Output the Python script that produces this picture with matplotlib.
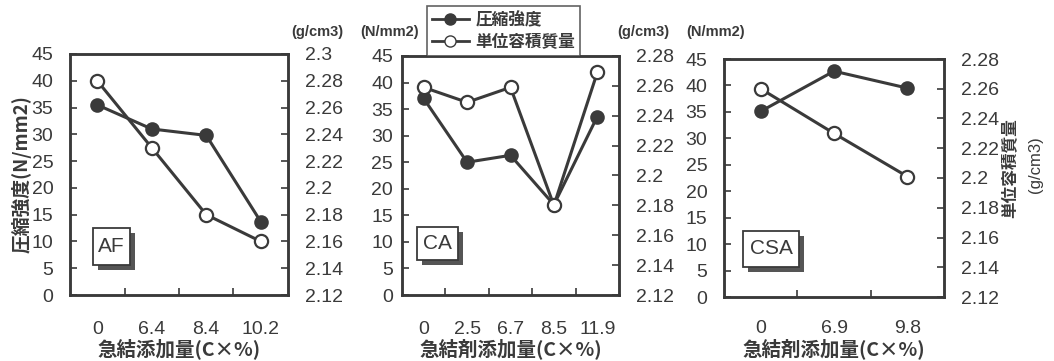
import numpy as np
import matplotlib.pyplot as plt
from matplotlib.lines import Line2D
from matplotlib.patches import Rectangle

JP = ['Noto Sans CJK JP', 'DejaVu Sans']
NUM = 'Liberation Sans'
INK = '#3a3a3a'

# 急結剤の種類ごとの添加量 (C×%)
af_x = ['0', '6.4', '8.4', '10.2']
ca_x = ['0', '2.5', '6.7', '8.5', '11.9']
csa_x = ['0', '6.9', '9.8']

# 圧縮強度 (N/mm2)
af_strength = [35.5, 31.0, 29.8, 13.7]
ca_strength = [37.0, 25.0, 26.3, 17.0, 33.6]
csa_strength = [35.1, 42.7, 39.5]

# 単位容積質量 (g/cm3)
af_density = [2.280, 2.230, 2.180, 2.160]
ca_density = [2.259, 2.249, 2.259, 2.180, 2.269]
csa_density = [2.260, 2.230, 2.201]

af_right_ticks = [2.12, 2.14, 2.16, 2.18, 2.2, 2.22, 2.24, 2.26, 2.28, 2.3]
other_right_ticks = [2.12, 2.14, 2.16, 2.18, 2.2, 2.22, 2.24, 2.26, 2.28]
left_ticks = [0, 5, 10, 15, 20, 25, 30, 35, 40, 45]

plt.rcParams['font.family'] = [NUM, 'Noto Sans CJK JP']

W, H = 1054, 361
fig = plt.figure(figsize=(W / 100, H / 100), dpi=100)


def px(x0, y0, x1, y1):
    # ピクセル座標 (左上原点) から figure 座標へ
    return [x0 / W, 1 - y1 / H, (x1 - x0) / W, (y1 - y0) / H]


def panel(rect, cats, strength, density, rticks, name, xlabel, lpad, xpad, box):
    ax = fig.add_axes(rect)
    xs = np.arange(len(cats))
    ax.set_xlim(-0.5, len(cats) - 0.5)
    ax.set_ylim(0, 45)
    ax.set_yticks(left_ticks)
    ax.set_xticks(xs)
    ax.set_xticklabels(cats)
    # 目盛線はカテゴリの境界に置く
    ax.set_xticks(np.arange(0.5, len(cats) - 1, 1), minor=True)
    ax.tick_params(axis='x', which='major', length=0, pad=xpad, labelsize=14, colors=INK)
    ax.tick_params(axis='x', which='minor', direction='in', length=5, width=1.2, color=INK)
    ax.tick_params(axis='y', direction='in', length=5, width=1.2, pad=lpad, labelsize=14, colors=INK)
    for s in ax.spines.values():
        s.set_linewidth(1.8)
        s.set_color(INK)

    ax2 = ax.twinx()
    ax2.set_ylim(rticks[0], rticks[-1])
    ax2.set_yticks(rticks)
    ax2.set_yticklabels([f'{t:g}' for t in rticks])
    ax2.tick_params(axis='y', direction='in', length=5, width=1.2, pad=12, labelsize=14, colors=INK)
    for s in ax2.spines.values():
        s.set_linewidth(1.8)
        s.set_color(INK)

    ax.plot(xs, strength, color=INK, lw=2.2, marker='o', ms=9,
            mfc=INK, mec=INK, mew=1.5, zorder=3)
    ax2.plot(xs, density, color=INK, lw=2.2, marker='o', ms=9.5,
             mfc='white', mec=INK, mew=1.6, zorder=3)

    fig.text(rect[0] + rect[2] / 2, 1 - 349 / H, xlabel, ha='center', va='center',
             family=JP, weight='bold', fontsize=14, color=INK)

    # 種類名の枠 (影付き)
    bx, by, bw, bh = px(*box)
    fig.patches.append(Rectangle((bx + 5 / W, by - 5 / H), bw, bh, transform=fig.transFigure,
                                 facecolor='#555555', edgecolor='none', zorder=5))
    fig.patches.append(Rectangle((bx, by), bw, bh, transform=fig.transFigure,
                                 facecolor='white', edgecolor=INK, lw=1.3, zorder=6))
    fig.text(bx + bw / 2, by + bh / 2, name, ha='center', va='center', fontsize=15,
             color=INK, zorder=7)
    return ax, ax2


ax1, _ = panel(px(70, 54, 288, 295), af_x, af_strength, af_density,
               af_right_ticks, 'AF', '急結添加量(C×%)', 12, 19, (93, 228, 130, 265))
ax1.set_ylabel('圧縮強度(N/mm2)', family=JP, weight='bold', fontsize=13.5, color=INK, labelpad=0)

panel(px(402, 56, 619, 295), ca_x, ca_strength, ca_density,
      other_right_ticks, 'CA', '急結剤添加量(C×%)', 6.5, 19, (417, 227, 458, 260))

panel(px(724, 59, 944, 297), csa_x, csa_strength, csa_density,
      other_right_ticks, 'CSA', '急結剤添加量(C×%)', 12, 16.5, (743, 231, 799, 267))

fig.text(1010 / W, 1 - 168 / H, '単位容積質量', rotation=90, ha='center', va='center',
         family=JP, weight='bold', fontsize=12, color=INK)
fig.text(1036 / W, 1 - 165 / H, '(g/cm3)', rotation=90, ha='center', va='center',
         fontsize=12, color=INK)

# 軸の単位
for x, t in [(317, '(g/cm3)'), (390, '(N/mm2)'), (643, '(g/cm3)'), (716, '(N/mm2)')]:
    fig.text(x / W, 1 - 32 / H, t, ha='center', va='center', fontsize=10.5, weight='bold', color=INK)

handles = [
    Line2D([], [], color=INK, lw=2, marker='o', ms=8, mfc=INK, mec=INK),
    Line2D([], [], color=INK, lw=2, marker='o', ms=8, mfc='white', mec=INK),
]
leg = fig.legend(handles, ['圧縮強度', '単位容積質量'], loc='upper left',
                 bbox_to_anchor=(427 / W, 1 - 6 / H), prop={'family': JP, 'weight': 'bold', 'size': 12},
                 frameon=True, fancybox=False, edgecolor=INK, handlelength=2.2,
                 handletextpad=0.4, borderpad=0.3, labelspacing=0.25, borderaxespad=0)
leg.get_frame().set_linewidth(1.2)
for t in leg.get_texts():
    t.set_color(INK)

fig.savefig('out.png', dpi=100, facecolor='white')
